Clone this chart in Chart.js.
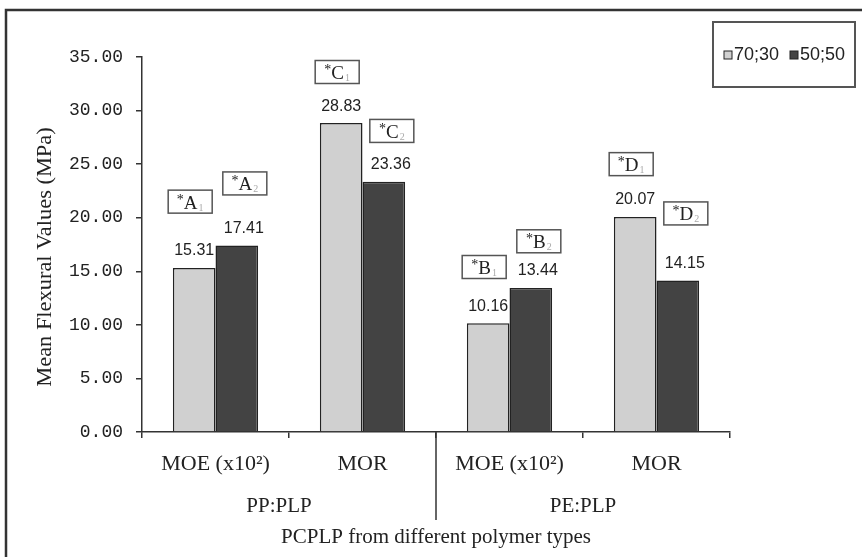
<!DOCTYPE html>
<html lang="en">
<head>
  <meta charset="UTF-8" />
  <title>Mean Flexural Values</title>
  <script src="https://cdn.jsdelivr.net/npm/chart.js@4.4.0/dist/chart.umd.min.js"></script>
  <style>
    body { margin: 0; background: #fff; }
    #wrap { width: 862px; height: 557px; }
  </style>
</head>
<body>
  <div id="wrap"><canvas id="flexChart" width="862" height="557"></canvas></div>

  <script>
    // data
    const categories = ['MOE (x10²)', 'MOR', 'MOE (x10²)', 'MOR'];
    const groups = ['PP:PLP', 'PE:PLP'];
    const seriesNames = ['70;30', '50;50'];
    const values7030 = [15.31, 28.83, 10.16, 20.07];
    const values5050 = [17.41, 23.36, 13.44, 14.15];
    const yMin = 0, yMax = 35, yStep = 5;

    // significance tags (*A1, *A2 ...) and the level they sit at, in MPa
    const tagLetters = ['A', 'C', 'B', 'D'];
    const tagLevels7030 = [21.5, 33.6, 15.4, 25.0];
    const tagLevels5050 = [23.2, 28.1, 17.8, 20.4];

    const serif = "'Liberation Serif', 'Times New Roman', serif";
    const sans = "'Liberation Sans', Arial, sans-serif";
    const ink = '#222';

    const extras = {
      id: 'extras',
      afterDraw(chart) {
        const ctx = chart.ctx;
        const xs = chart.scales.x;
        const area = chart.chartArea;
        ctx.save();

        // outer frame (left + top only visible)
        ctx.strokeStyle = '#333';
        ctx.lineWidth = 2.5;
        ctx.beginPath();
        ctx.moveTo(6, 557); ctx.lineTo(6, 10); ctx.lineTo(862, 10);
        ctx.stroke();

        // y title (a bit stretched, like the original)
        ctx.save();
        ctx.translate(46, 257);
        ctx.rotate(-Math.PI / 2);
        ctx.scale(1.12, 1);
        ctx.font = '20px ' + serif;
        ctx.fillStyle = ink;
        ctx.textAlign = 'center';
        ctx.textBaseline = 'middle';
        ctx.fillText('Mean Flexural Values (MPa)', 0, 0);
        ctx.restore();

        // group divider + group labels
        const divX = (xs.getPixelForValue(1) + xs.getPixelForValue(2)) / 2;
        ctx.strokeStyle = '#333';
        ctx.lineWidth = 1.5;
        ctx.beginPath();
        ctx.moveTo(divX, area.bottom); ctx.lineTo(divX, 520);
        ctx.stroke();

        ctx.font = '21px ' + serif;
        ctx.fillStyle = ink;
        ctx.textAlign = 'center';
        ctx.textBaseline = 'middle';
        groups.forEach((g, i) => {
          const cx = (xs.getPixelForValue(i * 2) + xs.getPixelForValue(i * 2 + 1)) / 2;
          ctx.fillText(g, cx - (i === 0 ? 10 : 0), 506);
        });
        ctx.fillText('PCPLP from different polymer types', (area.left + area.right) / 2, 537);

        // value labels and tags
        const dx = [0, 7];
        const tagDx = [-4, 8];
        const levels = [tagLevels7030, tagLevels5050];
        chart.data.datasets.forEach((ds, di) => {
          const meta = chart.getDatasetMeta(di);
          meta.data.forEach((bar, j) => {
            ctx.font = '16px ' + sans;
            ctx.fillStyle = ink;
            ctx.textAlign = 'center';
            ctx.textBaseline = 'middle';
            ctx.fillText(ds.data[j].toFixed(2), bar.x + dx[di], bar.y - 17);

            // tag box
            const bx = bar.x + tagDx[di];
            const by = chart.scales.y.getPixelForValue(levels[di][j]);
            const w = 44, h = 23;
            ctx.fillStyle = '#fff';
            ctx.fillRect(bx - w / 2, by - h / 2, w, h);
            ctx.strokeStyle = '#555';
            ctx.lineWidth = 1.5;
            ctx.strokeRect(bx - w / 2, by - h / 2, w, h);

            ctx.textAlign = 'left';
            ctx.textBaseline = 'alphabetic';
            const star = '*', letter = tagLetters[j], sub = String(di + 1);
            ctx.font = '14px ' + serif;
            const ws = ctx.measureText(star).width;
            ctx.font = '19px ' + serif;
            const wl = ctx.measureText(letter).width;
            ctx.font = '10px ' + serif;
            const wsub = ctx.measureText(sub).width;
            let tx = bx - (ws + wl + wsub + 1) / 2;
            const base = by + 7;
            ctx.fillStyle = ink;
            ctx.font = '14px ' + serif;
            ctx.fillText(star, tx, base - 5);
            tx += ws;
            ctx.font = '19px ' + serif;
            ctx.fillText(letter, tx, base);
            tx += wl + 1;
            ctx.fillStyle = '#aaa';
            ctx.font = '10px ' + serif;
            ctx.fillText(sub, tx, base + 2);
          });
        });

        // legend
        ctx.strokeStyle = '#555';
        ctx.lineWidth = 2;
        ctx.strokeRect(713, 22, 142, 65);
        ctx.font = '18px ' + sans;
        ctx.textAlign = 'left';
        ctx.textBaseline = 'middle';
        const legX = [724, 790];
        chart.data.datasets.forEach((ds, di) => {
          ctx.fillStyle = ds.backgroundColor;
          ctx.fillRect(legX[di], 51, 8, 8);
          ctx.strokeStyle = '#222';
          ctx.lineWidth = 1;
          ctx.strokeRect(legX[di], 51, 8, 8);
          ctx.fillStyle = ink;
          ctx.fillText(ds.label, legX[di] + 10, 55);
        });

        ctx.restore();
      }
    };

    window.flexChart = new Chart(document.getElementById('flexChart'), {
      type: 'bar',
      data: {
        labels: categories,
        datasets: [
          { label: seriesNames[0], data: values7030, backgroundColor: '#d0d0d0', borderColor: '#222', borderWidth: 1.5 },
          { label: seriesNames[1], data: values5050, backgroundColor: '#434343', borderColor: '#222', borderWidth: 1.5 }
        ]
      },
      options: {
        responsive: false,
        animation: false,
        categoryPercentage: 0.58,
        barPercentage: 1.0,
        layout: { padding: { left: 0, right: 132, top: 57, bottom: 0 } },
        plugins: { legend: { display: false }, tooltip: { enabled: false } },
        scales: {
          x: {
            afterFit: s => { s.height = 125; },
            grid: { drawOnChartArea: false, tickLength: 6, color: '#333', lineWidth: 1.5 },
            border: { color: '#333', width: 1.5 },
            ticks: { font: { family: serif, size: 22 }, color: ink, padding: 13, maxRotation: 0 }
          },
          y: {
            min: yMin, max: yMax,
            afterFit: s => { s.width = 142; },
            grid: { drawOnChartArea: false, tickLength: 6, color: '#333', lineWidth: 1.5 },
            border: { color: '#333', width: 1.5 },
            ticks: {
              stepSize: yStep,
              font: { family: "'Liberation Mono', 'Courier New', monospace", size: 18 },
              color: ink,
              padding: 13,
              callback: v => v.toFixed(2)
            }
          }
        }
      },
      plugins: [extras]
    });
  </script>
</body>
</html>
